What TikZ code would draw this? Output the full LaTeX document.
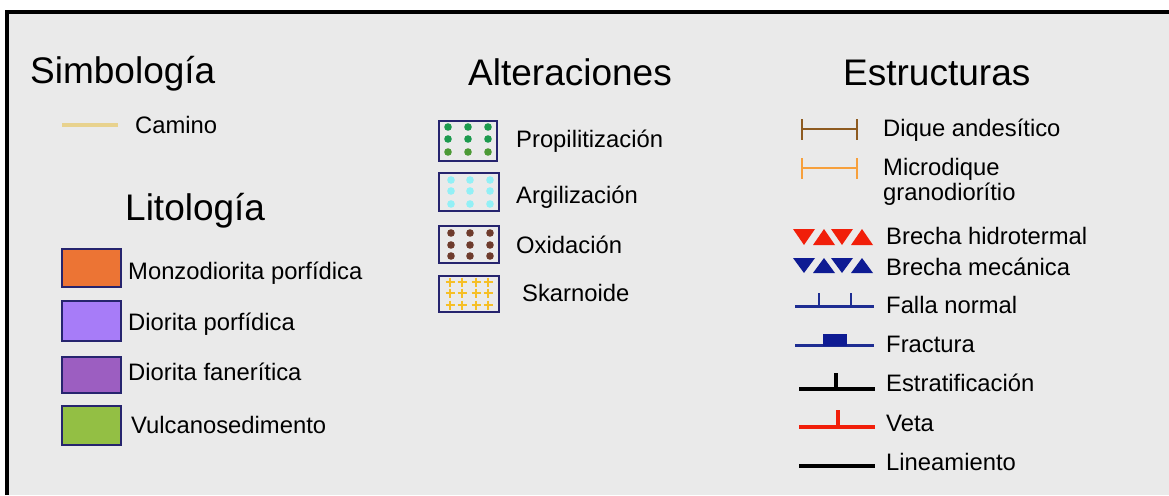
\documentclass[tikz,border=0pt]{standalone}
\usepackage{fontspec}
\setmainfont{Liberation Sans}
\definecolor{bgray}{HTML}{EAEAEA}
\definecolor{camino}{HTML}{E8D28E}
\definecolor{navy}{HTML}{26246E}
\definecolor{lorange}{HTML}{EC7434}
\definecolor{lpurple}{HTML}{A77CF8}
\definecolor{dpurple}{HTML}{9C5EC1}
\definecolor{lgreen}{HTML}{93BF44}
\definecolor{dgreen}{HTML}{1C9A4E}
\definecolor{ogreen}{HTML}{4C9A36}
\definecolor{cyanc}{HTML}{92F0F6}
\definecolor{brownc}{HTML}{6E3B2C}
\definecolor{yellowc}{HTML}{F6BF26}
\definecolor{dike}{HTML}{8E5B20}
\definecolor{mdike}{HTML}{F7A03C}
\definecolor{redc}{HTML}{F11F0A}
\definecolor{bluec}{HTML}{0E1B93}
\definecolor{fault}{HTML}{1E2D92}
\begin{document}
\begin{tikzpicture}[x=1pt,y=-1pt,
  lbl/.style={anchor=west, inner sep=0pt, font=\fontsize{23.8}{28}\selectfont, text height=17pt, text depth=0pt},
  ttl/.style={anchor=west, inner sep=0pt, font=\fontsize{37}{42}\selectfont, text height=26.5pt, text depth=0pt},
  litbox/.style={draw=navy, line width=1.8pt},
  altbox/.style={draw=navy, line width=2pt},
]
\useasboundingbox (0,0) rectangle (1169,495);
\fill[white] (0,0) rectangle (1169,495);
\fill[bgray] (7,12) rectangle (1169,495);
\draw[line width=4pt] (7,495) -- (7,12) -- (1169,12);

% Simbologia
\node[ttl] (simb) at (30,70) {Simbología};
\draw[camino, line width=4pt] (62,125) -- (118,125);
\node[lbl] (cam) at (135,125) {Camino};
\node[ttl] (lito) at (125,207) {Litología};

\draw[litbox, fill=lorange] (62,249) rectangle (121,287);
\node[lbl] (l1) at (128,271) {Monzodiorita porfídica};
\draw[litbox, fill=lpurple] (62,301) rectangle (121,341);
\node[lbl] (l2) at (128,322) {Diorita porfídica};
\draw[litbox, fill=dpurple] (62,357) rectangle (121,393);
\node[lbl] (l3) at (128,372) {Diorita fanerítica};
\draw[litbox, fill=lgreen] (62,406) rectangle (121,445);
\node[lbl] (l4) at (131,425) {Vulcanosedimento};

% Alteraciones
\node[ttl] (alt) at (468,72) {Alteraciones};

\draw[altbox] (439,121) rectangle (497,161);
\foreach \x in {448,468,488}{
  \fill[dgreen] (\x,127) circle (3.8);
  \fill[dgreen] (\x,139) circle (3.8);
  \fill[ogreen] (\x,152) circle (3.8);
}
\node[lbl] (a1) at (516,139) {Propilitización};

\draw[altbox] (439,173) rectangle (499,211);
\foreach \x in {451,470,490}{
  \foreach \y in {180,191,204}{\fill[cyanc] (\x,\y) circle (3.8);}
}
\node[lbl] (a2) at (516,195) {Argilización};

\draw[altbox] (439,226) rectangle (499,263);
\foreach \x in {451,470,490}{
  \foreach \y in {233,245,256}{\fill[brownc] (\x,\y) circle (3.8);}
}
\node[lbl] (a3) at (516,245) {Oxidación};

\draw[altbox] (439,276) rectangle (499,312);
\foreach \x in {450,462,476,488}{
  \foreach \y in {282,293,305}{
    \draw[yellowc, line width=2.4pt] (\x-4.5,\y) -- (\x+4.5,\y) (\x,\y-4.5) -- (\x,\y+4.5);
  }
}
\node[lbl] (a4) at (522,293) {Skarnoide};

% Estructuras
\node[ttl] (est) at (843,72) {Estructuras};

\draw[dike, line width=2.5pt] (802,129) -- (857,129);
\draw[dike, line width=2.5pt] (802,119) -- (802,140) (857,119) -- (857,140);
\node[lbl] (e1) at (883,128) {Dique andesítico};

\draw[mdike, line width=2.5pt] (802,168) -- (857,168);
\draw[mdike, line width=2.5pt] (802,158) -- (802,179) (857,158) -- (857,179);
\node[lbl] (e2) at (883,167) {Microdique};
\node[lbl] (e2b) at (883,192) {granodiorítio};

% brechas
\foreach \c/\ya/\yb in {redc/229/245, bluec/258/273}{
  \fill[\c] (793,\ya) -- (815,\ya) -- (804,\yb) -- cycle;
  \fill[\c] (813,\yb) -- (835,\yb) -- (824,\ya) -- cycle;
  \fill[\c] (831,\ya) -- (853,\ya) -- (842,\yb) -- cycle;
  \fill[\c] (851,\yb) -- (873,\yb) -- (862,\ya) -- cycle;
}
\node[lbl] (e3) at (886,236) {Brecha hidrotermal};
\node[lbl] (e4) at (886,267) {Brecha mecánica};

\draw[fault, line width=3pt] (795,306) -- (874,306);
\draw[fault, line width=2.5pt] (819,293) -- (819,306) (851,293) -- (851,306);
\node[lbl] (e5) at (886,305) {Falla normal};

\draw[fault, line width=3pt] (795,345) -- (874,345);
\fill[bluec] (823,334) rectangle (847,346);
\node[lbl] (e6) at (886,344) {Fractura};

\draw[black, line width=4.5pt] (799,389) -- (875,389);
\draw[black, line width=4pt] (836,373) -- (836,389);
\node[lbl] (e7) at (886,383) {Estratificación};

\draw[redc, line width=4pt] (799,427) -- (875,427);
\draw[redc, line width=3.5pt] (838,410) -- (838,427);
\node[lbl] (e8) at (886,423) {Veta};

\draw[black, line width=4.5pt] (799,466) -- (875,466);
\node[lbl] (e9) at (886,462) {Lineamiento};
\end{tikzpicture}
\end{document}
